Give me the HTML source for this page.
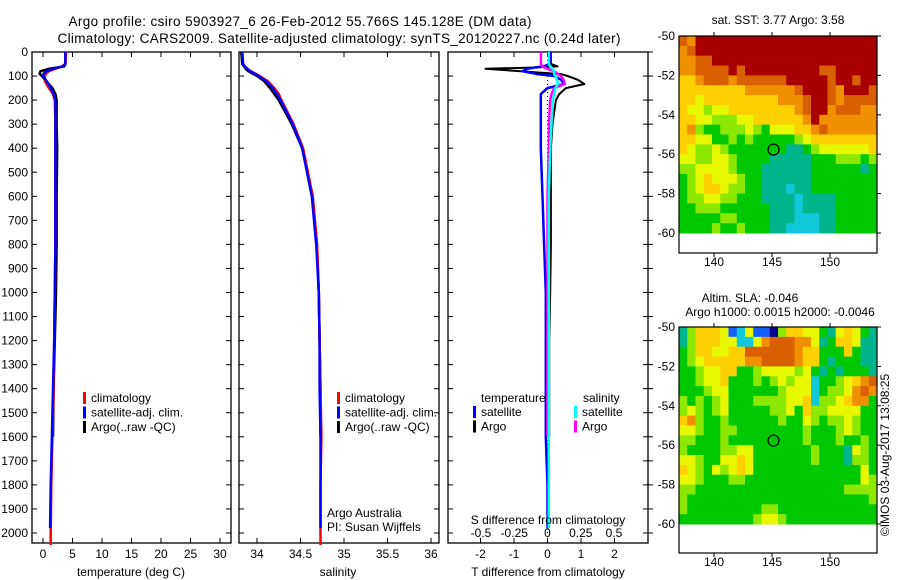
<!DOCTYPE html>
<html><head><meta charset="utf-8"><style>
html,body{margin:0;padding:0;background:#fff;}
svg{display:block;font-family:"Liberation Sans",sans-serif;}
text{font-size:12px;fill:#000;}
</style></head><body>
<svg id="fig" width="900" height="580" viewBox="0 0 900 580">
<text x="300" y="26" text-anchor="middle" style="font-size:13.5px" textLength="463">Argo profile: csiro 5903927_6 26-Feb-2012 55.766S 145.128E (DM data)</text>
<text x="339" y="43" text-anchor="middle" style="font-size:13.5px" textLength="563">Climatology: CARS2009. Satellite-adjusted climatology: synTS_20120227.nc (0.24d later)</text>
<g id="g1"></g>
<g id="g2"></g>
<g id="g3"></g>
<g id="m1"></g>
<g id="m2"></g>
<text transform="translate(889,455) rotate(-90)" text-anchor="middle">©IMOS 03-Aug-2017 13:08:25</text>
</svg>
<script>
// ---- profile data ----
const depthArgo = [0,50,60,70,80,90,100,120,150,175,200,300,400,600,800,1000,1200,1400,1600];
const argoT = [3.8,3.8,3.6,1.0,-0.4,-0.6,-0.2,0.5,1.6,2.1,2.3,2.3,2.4,2.3,2.3,2.2,2.0,1.8,1.7];
const argoS = [33.82,33.83,33.85,33.87,33.9,33.95,34.0,34.08,34.15,34.2,34.25,34.4,34.52,34.64,34.69,34.71,34.72,34.73,34.73];
const depthClim = [0,50,60,70,80,90,100,120,150,175,200,300,400,600,800,1000,1200,1400,1600,1800,2000,2050];
const climT = [3.9,3.8,3.2,2.0,1.0,0.5,0.3,0.3,1.0,1.7,2.0,2.1,2.1,2.1,2.1,2.0,1.9,1.8,1.6,1.4,1.3,1.3];
const climS = [33.83,33.84,33.86,33.89,33.93,33.98,34.03,34.12,34.2,34.25,34.28,34.42,34.53,34.64,34.69,34.71,34.72,34.73,34.74,34.73,34.73,34.73];
const depthSat = [0,50,60,70,80,90,100,120,150,175,200,300,400,600,800,1000,1200,1400,1600,1800,1980];
const satT = [3.8,3.8,3.3,1.8,0.6,0.1,0.0,0.6,1.3,1.8,2.1,2.1,2.1,2.1,2.1,2.0,1.9,1.7,1.5,1.3,1.2];
const satS = [33.83,33.84,33.86,33.89,33.92,33.97,34.02,34.1,34.18,34.23,34.27,34.41,34.52,34.63,34.68,34.71,34.72,34.72,34.73,34.73,34.73];
// differences from climatology
const depthDiff = [0,50,60,65,70,80,92,100,115,133,150,175,200,300,400,600,800,1000,1200,1400,1600,1800,1980];
const diffTsat = [0.1,0.05,-0.1,-0.4,-0.6,-0.75,-0.3,0.2,0.4,0.5,0.0,-0.2,-0.2,-0.2,-0.2,-0.15,-0.1,-0.05,-0.05,-0.05,-0.05,0.0,0.0];
const diffTargo = [0.1,0.1,0.3,-0.5,-1.85,-0.8,0.4,0.6,0.9,1.1,0.55,0.35,0.25,0.15,0.1,0.1,0.1,0.08,0.05,0.05,0.05,null,null];
const diffSsat = [0.01,0.01,0.02,0.03,0.04,0.05,0.05,0.06,0.07,0.08,0.06,0.05,0.04,0.03,0.02,0.01,0.01,0.01,0.01,0.01,0.01,0.01,0.01];
const diffSargo = [-0.05,-0.05,-0.04,-0.02,0.0,0.05,0.08,0.1,0.12,0.13,0.05,0.03,0.02,0.01,0.01,0.0,0.0,0.0,0.0,0.0,0.0,null,null];
const depthTicks = [0,100,200,300,400,500,600,700,800,900,1000,1100,1200,1300,1400,1500,1600,1700,1800,1900,2000];
const tTicks = [0,5,10,15,20,25,30];
const sTicks = [34,34.5,35,35.5,36];
const dtTicks = [-2,-1,0,1,2];
const dsTicks = [-0.5,-0.25,0,0.25,0.5];
// ---- map data (rows lat -50 .. -60, cols lon 137 .. 154), colour class 0..A ----
const sstGrid = [
"98AAAAAAAAAAAAAAAAAAAAAA","89AAAAAAAAAAAAAAAAAAAAAA","8899AAAAAAAAAAAAAAAAAAAA","889999A9AAAAAAAAA99AAAAA",
"7789998999999AAAAA9AA9AA","777777778888889AAA98AAA9","7767777777778889AA989999","7665667777777789AA899988",
"7766555667777778A8888888","785445556546667789888888","776644545444445677777777","765565444444433456666667",
"665566544443333344455545","556666544433333344444434","456766654433333344444444","456776554433323344444444",
"455665544433332333344444","445554444443332333344444","444445544443332223344444","444454454443322223344444"];
const slaGrid = [
"357776126110577664367643","357776622689998863477633","457766779999998774447433","456777778899998774344433",
"445667744566665643434443","445667444545656624456789","444566444444566624556898","545456444555566725567884",
"565456444445564755666644","785445444444544654556544","665445544444444544456544","554445444444444544454454",
"544445566444444454443654","665446676444444454443554","765465676444444444444464","665444554444444444444465",
"554444444444444444445555","544444444444444444444445","544444444455444444444444","444444444566544444444444"];
const mapLonTicks = [140,145,150];
const mapLatTicks = [-50,-52,-54,-56,-58,-60];
const argoLon = 145.128, argoLat = -55.766;
const palette = {"0":"#00008c","1":"#1060ff","2":"#10c8d8","3":"#00b48c","4":"#00c800","5":"#8ce800","6":"#e8f800","7":"#ffd000","8":"#f09000","9":"#d86000","A":"#a80000"};

const NS="http://www.w3.org/2000/svg";
function mk(tag,attrs,parent,txt){const e=document.createElementNS(NS,tag);for(const k in attrs)e.setAttribute(k,attrs[k]);if(txt!==undefined)e.textContent=txt;parent.appendChild(e);return e;}

const Y0=52,Y1=543;
const yD = d => Y0 + d*0.2405;
function frame(g,x0,x1,name){
  const r=mk('rect',{x:x0,y:Y0,width:x1-x0,height:Y1-Y0,fill:'none',stroke:'#000','stroke-width':1.3},g);
  
  
}
function yTicks(g,x0,x1,labels){
  depthTicks.forEach(d=>{
    const y=yD(d);
    const t=mk('line',{x1:x0,x2:x0+5,y1:y,y2:y,stroke:'#000'},g);
    
    
    mk('line',{x1:x1-5,x2:x1,y1:y,y2:y,stroke:'#000'},g);
    if(labels){const l=mk('text',{x:x0-4,y:y+4,'text-anchor':'end'},g,String(d));
      
      }
  });
}
function xTicks(g,vals,fx,yl,fmt){
  vals.forEach(v=>{const x=fx(v);
    mk('line',{x1:x,x2:x,y1:Y0,y2:Y0+5,stroke:'#000'},g);
    mk('line',{x1:x,x2:x,y1:Y1,y2:Y1-5,stroke:'#000'},g);
    const l=mk('text',{x:x,y:yl,'text-anchor':'middle'},g,fmt?fmt(v):String(v));
    
    
  });
}
function line(g,xs,ds,fx,color,name,w){
  let pts=[];
  xs.forEach((v,i)=>{if(v!==null)pts.push(fx(v).toFixed(1)+','+yD(ds[i]).toFixed(1));});
  const p=mk('polyline',{points:pts.join(' '),fill:'none',stroke:color,'stroke-width':w||2.5,'stroke-linejoin':'round'},g);
  
  
}
function legend(g,x,y,items){
  items.forEach((it,i)=>{
    mk('rect',{x:x,y:y+i*14.5-10,width:3,height:12,fill:it[0]},g);
    const t=mk('text',{x:x+8,y:y+i*14.5},g,it[1]);
    
    
  });
}
// panel 1 temperature
const g1=document.getElementById('g1');
const fT=v=>43+v*5.9;
frame(g1,32,231,'temperature-axes');yTicks(g1,32,231,true);xTicks(g1,tTicks,fT,558);
line(g1,argoT,depthArgo,fT,'#000','argo-temperature-line');
line(g1,climT,depthClim,fT,'#f00','clim-temperature-line');
line(g1,satT,depthSat,fT,'#00f','sat-temperature-line');
mk('text',{x:131,y:576,'text-anchor':'middle'},g1,'temperature (deg C)');
legend(g1,83,402,[['#f00','climatology'],['#00f','satellite-adj. clim.'],['#000','Argo(..raw -QC)']]);
// panel 2 salinity
const g2=document.getElementById('g2');
const fS=v=>257+(v-34)*87;
frame(g2,239,439,'salinity-axes');yTicks(g2,239,439,false);xTicks(g2,sTicks,fS,558);
line(g2,argoS,depthArgo,fS,'#000','argo-salinity-line');
line(g2,climS,depthClim,fS,'#f00','clim-salinity-line');
line(g2,satS,depthSat,fS,'#00f','sat-salinity-line');
mk('text',{x:338,y:576,'text-anchor':'middle'},g2,'salinity');
legend(g2,337,402,[['#f00','climatology'],['#00f','satellite-adj. clim.'],['#000','Argo(..raw -QC)']]);
mk('text',{x:327,y:517},g2,'Argo Australia');
mk('text',{x:327,y:531},g2,'PI: Susan Wijffels');
// panel 3 differences
const g3=document.getElementById('g3');
const fDT=v=>547.5+v*33.5, fDS=v=>547.5+v*133;
frame(g3,448,648,'difference-axes');yTicks(g3,448,648,false);
depthTicks.forEach(d=>mk('line',{x1:648,x2:653,y1:yD(d),y2:yD(d),stroke:'#000'},g3));
xTicks(g3,dtTicks,fDT,558);
dsTicks.forEach(v=>{const l=mk('text',{x:fDS(v),y:537,'text-anchor':'middle'},g3,String(v));
  
  });
mk('line',{x1:547.5,x2:547.5,y1:Y0,y2:Y1,stroke:'#000','stroke-dasharray':'1,3'},g3);
line(g3,diffTargo,depthDiff,fDT,'#000','argo-t-diff-line',2);
line(g3,diffTsat,depthDiff,fDT,'#00f','sat-t-diff-line',2.5);
line(g3,diffSargo,depthDiff,fDS,'#f0f','argo-s-diff-line',2.5);
line(g3,diffSsat,depthDiff,fDS,'#0ff','sat-s-diff-line',2.5);
mk('text',{x:548,y:576,'text-anchor':'middle'},g3,'T difference from climatology');
mk('text',{x:548,y:524,'text-anchor':'middle'},g3,'S difference from climatology');
mk('text',{x:481,y:402},g3,'temperature');
mk('text',{x:583,y:402},g3,'salinity');
legend(g3,473,416,[['#00f','satellite'],['#000','Argo']]);
legend(g3,574,416,[['#0ff','satellite'],['#f0f','Argo']]);
// maps
function drawMap(g,grid,top,bottom,bg){
  const X0=679,X1=877;
  const fx=lon=>772+(lon-145)*11.6, fy=lat=>top+(-50-lat)*19.7;
  const nr=grid.length,nc=grid[0].length;
  const cw=(X1-X0)/nc, ch=(fy(-60)-fy(-50))/nr;
  mk('rect',{x:X0,y:top,width:X1-X0,height:fy(-60)-top,fill:bg},g);
  grid.forEach((row,r)=>{[...row].forEach((c,k)=>{
    const cell=mk('rect',{x:(X0+k*cw).toFixed(2),y:(top+r*ch).toFixed(2),width:(cw+0.5).toFixed(2),height:(ch+0.5).toFixed(2),fill:palette[c]||bg},g);
    
    
  });});
  mk('rect',{x:X0,y:top,width:X1-X0,height:bottom-top,fill:'none',stroke:'#000','stroke-width':1.2},g);
  mapLatTicks.forEach(l=>{const y=fy(l);
    mk('line',{x1:X1,x2:X1+4,y1:y,y2:y,stroke:'#000'},g);
    const t=mk('text',{x:675,y:y+4,'text-anchor':'end'},g,String(l));
    
    });
  mapLonTicks.forEach(l=>{const x=fx(l);
    mk('line',{x1:x,x2:x,y1:top-4,y2:top,stroke:'#000'},g);
    mk('line',{x1:x,x2:x,y1:bottom,y2:bottom+4,stroke:'#000'},g);
    const t=mk('text',{x:x,y:bottom+13,'text-anchor':'middle'},g,String(l));
    
    });
  const c=mk('circle',{cx:fx(argoLon),cy:fy(argoLat),r:5.5,fill:'none',stroke:'#000','stroke-width':1.2},g);
  
  
}
const m1=document.getElementById('m1'),m2=document.getElementById('m2');
drawMap(m1,sstGrid,36,253,'#e08000');
drawMap(m2,slaGrid,327,553,'#00c800');
mk('text',{x:778,y:24,'text-anchor':'middle'},m1,'sat. SST: 3.77 Argo: 3.58');
mk('text',{x:750,y:302,'text-anchor':'middle'},m2,'Altim. SLA: -0.046');
mk('text',{x:780,y:316,'text-anchor':'middle'},m2,'Argo h1000: 0.0015 h2000: -0.0046');
</script>
</body></html>
